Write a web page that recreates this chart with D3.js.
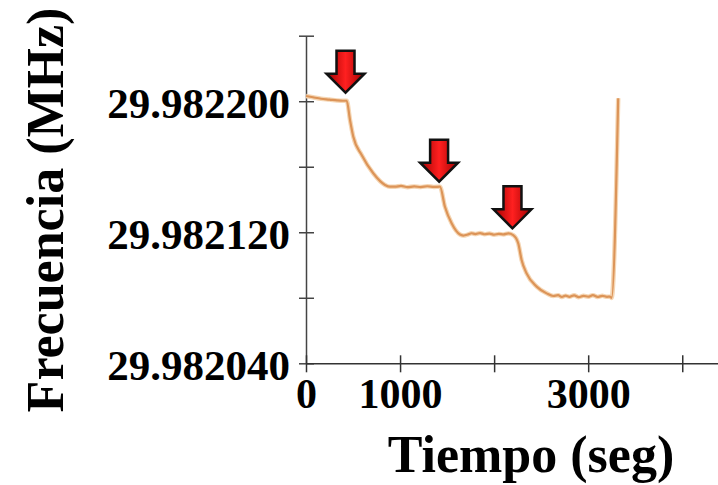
<!DOCTYPE html>
<html>
<head>
<meta charset="utf-8">
<script src="https://cdn.jsdelivr.net/npm/d3@7"></script>
<style>
  body { margin: 0; background: #fff; }
  svg text { font-family: "Liberation Serif", "Times New Roman", serif; font-weight: bold; fill: #000; }
</style>
</head>
<body>
<svg id="graph" width="718" height="485"></svg>
<script>
// tiempo (seg) y frecuencia (MHz)
var tiempo = [0, 74, 160, 250, 330, 393, 433, 468, 503, 592, 715, 840, 893,
  950, 1010, 1080, 1150, 1220, 1290, 1360, 1424, 1477, 1548, 1637, 1672,
  1720, 1760, 1800, 1850, 1900, 1950, 2000, 2050, 2100, 2150, 2203, 2256,
  2292, 2345, 2452, 2558, 2628, 2680, 2720, 2760, 2800, 2850, 2900, 2950,
  3000, 3050, 3100, 3150, 3200, 3231, 3249, 3319];
var frecuencia = [29.9822032, 29.9822024, 29.9822015, 29.9822010, 29.9822005, 29.9822003, 29.9822003,
  29.9821885, 29.9821783, 29.9821672, 29.9821560, 29.9821489, 29.9821478,
  29.9821478, 29.9821483, 29.9821475, 29.9821480, 29.9821476, 29.9821481, 29.9821477,
  29.9821478, 29.9821356, 29.9821255, 29.9821186, 29.9821180,
  29.9821186, 29.9821194, 29.9821189, 29.9821195, 29.9821188, 29.9821192, 29.9821185,
  29.9821190, 29.9821187, 29.9821193, 29.9821183, 29.9821133,
  29.9821031, 29.9820949, 29.9820868, 29.9820827, 29.9820811, 29.9820816, 29.9820805,
  29.9820813, 29.9820806, 29.9820815, 29.9820804, 29.9820812, 29.9820807, 29.9820816,
  29.9820805, 29.9820812, 29.9820806, 29.9820807, 29.9820799, 29.9822018];

// flechas: tiempo y frecuencia de la punta
var flechaT = [420, 1415, 2195];
var flechaF = [29.9822052, 29.9821509, 29.9821224];

var xTicks = [0, 1000, 2000, 3000, 4000];
var xLabels = ["0", "1000", "", "3000", ""];
var yTicks = [29.982040, 29.982080, 29.982120, 29.982160, 29.982200, 29.982240];
var yLabels = ["29.982040", "", "29.982120", "", "29.982200", ""];

var svg = d3.select("#graph");

var x = d3.scaleLinear().domain([0, 4380]).range([306, 718]);
var y = d3.scaleLinear().domain([29.982040, 29.982240]).range([363.3, 35.7]);

// eje y
var gy = svg.append("g")
  .attr("transform", "translate(" + x(0) + ",0)")
  .call(d3.axisLeft(y).tickValues(yTicks).tickSizeOuter(0)
    .tickFormat(function(d, i) { return yLabels[i]; }));
gy.select(".domain").attr("stroke", "#444").attr("stroke-width", 1.5);
gy.selectAll(".tick line").attr("x1", -7).attr("x2", 8).attr("stroke", "#444").attr("stroke-width", 1.5);
gy.selectAll(".tick text")
  .attr("x", -16).attr("dy", "0.37em")
  .attr("font-size", "43px").attr("font-family", null);

// eje x
var gx = svg.append("g")
  .attr("transform", "translate(0," + y(29.982040) + ")")
  .call(d3.axisBottom(x).tickValues(xTicks).tickSizeOuter(0)
    .tickFormat(function(d, i) { return xLabels[i]; }));
gx.select(".domain").attr("stroke", "#333").attr("stroke-width", 1.5);
gx.selectAll(".tick line").attr("y1", -8).attr("y2", 9).attr("stroke", "#333").attr("stroke-width", 1.5);
gx.selectAll(".tick text")
  .attr("y", 45).attr("dy", 0)
  .attr("font-size", "42px").attr("font-family", null);

// curva
var datos = tiempo.map(function(t, i) { return {t: t, f: frecuencia[i]}; });
var linea = d3.line().curve(d3.curveMonotoneX)
  .x(function(d) { return x(d.t); })
  .y(function(d) { return y(d.f); });
svg.append("path")
  .datum(datos)
  .attr("fill", "none")
  .attr("stroke", "#f5d6b4")
  .attr("stroke-width", 4.5)
  .attr("d", linea);
svg.append("path")
  .datum(datos)
  .attr("fill", "none")
  .attr("stroke", "#dc9458")
  .attr("stroke-width", 2.2)
  .attr("d", linea);

// flechas rojas
var grad = svg.append("defs").append("linearGradient").attr("id", "rojo");
grad.append("stop").attr("offset", "0%").attr("stop-color", "#a00000");
grad.append("stop").attr("offset", "50%").attr("stop-color", "#ff2020");
grad.append("stop").attr("offset", "100%").attr("stop-color", "#a00000");

var forma = [[0, 0], [-19, -19], [-9, -19], [-9, -42], [9, -42], [9, -19], [19, -19]];
svg.selectAll(".flecha")
  .data(flechaT)
  .enter().append("polygon")
  .attr("class", "flecha")
  .attr("points", forma.map(function(p) { return p.join(","); }).join(" "))
  .attr("transform", function(d, i) { return "translate(" + x(d) + "," + y(flechaF[i]) + ")"; })
  .attr("fill", "url(#rojo)")
  .attr("stroke", "#111")
  .attr("stroke-width", 2.5)
  .attr("stroke-linejoin", "miter");

// titulos
svg.append("text")
  .attr("x", 531)
  .attr("y", 472)
  .attr("text-anchor", "middle")
  .attr("font-size", "52px")
  .text("Tiempo (seg)");

svg.append("text")
  .attr("transform", "translate(63,210) rotate(-90)")
  .attr("text-anchor", "middle")
  .attr("font-size", "52px")
  .text("Frecuencia (MHz)");
</script>
</body>
</html>
